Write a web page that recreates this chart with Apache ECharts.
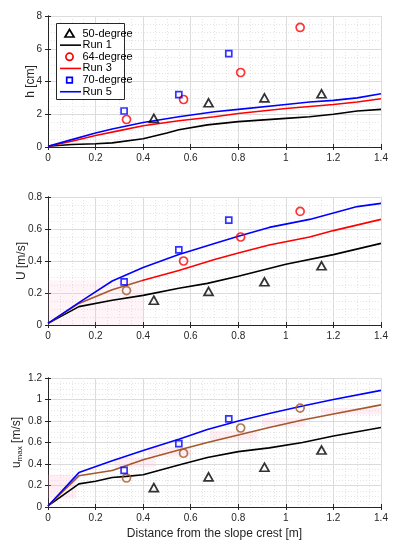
<!DOCTYPE html>
<html><head><meta charset="utf-8">
<script src="https://cdn.jsdelivr.net/npm/echarts@6/dist/echarts.min.js"></script>
<style>html,body{margin:0;padding:0;background:#fff}#c{width:398px;height:550px}</style>
</head><body><div id="c"></div>
<script>
// ---------- data ----------
const xTri = [0.445, 0.675, 0.91, 1.15];
const xCir = [0.33, 0.57, 0.81, 1.06];
const xSq  = [0.32, 0.55, 0.76];

// Panel 1: h [cm]
const hTri = [1.75, 2.7, 3.0, 3.25];
const hCir = [1.68, 2.9, 4.55, 7.3];
const hSq  = [2.2, 3.2, 5.7];
const hRun1X = [0, 0.1, 0.2, 0.27, 0.4, 0.5, 0.55, 0.67, 0.8, 1.0, 1.1, 1.2, 1.3, 1.4];
const hRun1Y = [0.05, 0.15, 0.2, 0.25, 0.5, 0.85, 1.05, 1.35, 1.55, 1.75, 1.85, 2.0, 2.2, 2.3];
const hRun3X = [0, 0.1, 0.2, 0.3, 0.4, 0.55, 0.7, 0.8, 1.0, 1.2, 1.3, 1.4];
const hRun3Y = [0.05, 0.35, 0.7, 1.0, 1.3, 1.6, 1.85, 2.05, 2.35, 2.6, 2.75, 2.95];
const hRun5X = [0, 0.1, 0.2, 0.27, 0.4, 0.55, 0.7, 0.8, 1.0, 1.1, 1.2, 1.3, 1.4];
const hRun5Y = [0.05, 0.45, 0.85, 1.1, 1.5, 1.85, 2.15, 2.3, 2.6, 2.75, 2.85, 3.0, 3.25];

// Panel 2: U [m/s]
const uTri = [0.155, 0.21, 0.27, 0.37];
const uCir = [0.215, 0.40, 0.55, 0.71];
const uSq  = [0.27, 0.47, 0.655];
const uRun1X = [0, 0.13, 0.27, 0.4, 0.55, 0.67, 0.8, 1.0, 1.2, 1.4];
const uRun1Y = [0.01, 0.115, 0.155, 0.185, 0.23, 0.26, 0.305, 0.38, 0.44, 0.51];
const uRun3X = [0, 0.13, 0.27, 0.4, 0.55, 0.7, 0.8, 0.93, 1.1, 1.2, 1.4];
const uRun3Y = [0.01, 0.135, 0.22, 0.28, 0.34, 0.41, 0.45, 0.5, 0.55, 0.59, 0.66];
const uRun5X = [0, 0.13, 0.27, 0.4, 0.55, 0.7, 0.8, 0.93, 1.1, 1.2, 1.3, 1.4];
const uRun5Y = [0.01, 0.14, 0.275, 0.36, 0.44, 0.51, 0.555, 0.61, 0.66, 0.70, 0.74, 0.76];

// Panel 3: u_max [m/s]
const mTri = [0.18, 0.28, 0.37, 0.53];
const mCir = [0.27, 0.50, 0.735, 0.92];
const mSq  = [0.34, 0.59, 0.82];
const mRun1X = [0, 0.13, 0.2, 0.27, 0.33, 0.4, 0.55, 0.67, 0.8, 0.93, 1.07, 1.2, 1.4];
const mRun1Y = [0.01, 0.215, 0.24, 0.275, 0.285, 0.30, 0.39, 0.46, 0.515, 0.55, 0.60, 0.66, 0.74];
const mRun3X = [0, 0.13, 0.27, 0.4, 0.55, 0.67, 0.8, 0.93, 1.07, 1.2, 1.4];
const mRun3Y = [0.01, 0.29, 0.34, 0.44, 0.53, 0.60, 0.67, 0.74, 0.81, 0.865, 0.95];
const mRun5X = [0, 0.13, 0.27, 0.4, 0.55, 0.67, 0.8, 0.93, 1.07, 1.2, 1.4];
const mRun5Y = [0.01, 0.32, 0.43, 0.525, 0.63, 0.72, 0.80, 0.87, 0.94, 1.0, 1.085];

const xTickLabels = ['0', '0.2', '0.4', '0.6', '0.8', '1', '1.2', '1.4'];
const legendNames = ['50-degree', 'Run 1', '64-degree', 'Run 3', '70-degree', 'Run 5'];

// ---------- styling ----------
const FONT = 'Liberation Sans, Arial, Helvetica, sans-serif';
const AX = '#262626';
const BLACK = '#000000', RED = '#ff0000', BLUE = '#0000ff', BROWN = '#a4582c';
const zip = (xs, ys) => xs.map((x, i) => [x, ys[i]]);

const grids = [
  {left: 48, right: 17, top: 16, height: 131, outerBoundsMode: 'none'},
  {left: 48, right: 17, top: 197, height: 128, outerBoundsMode: 'none'},
  {left: 48, right: 17, top: 378, height: 129, outerBoundsMode: 'none'}
];

const yCfg = [
  {min: 0, max: 8, interval: 2, name: 'h [cm]', gap: 11, fmt: v => String(v)},
  {min: 0, max: 0.8, interval: 0.2, name: 'U [m/s]', gap: 20, fmt: v => String(+v.toFixed(1))},
  {min: 0, max: 1.2, interval: 0.2, name: '{a|u}{s|max}{a| [m/s]}', gap: 24, fmt: v => String(+v.toFixed(1))}
];

const xAxis = [], yAxis = [];
grids.forEach((g, i) => {
  xAxis.push({
    type: 'value', gridIndex: i, min: 0, max: 1.4, interval: 0.2, position: 'bottom',
    axisLine: {show: true, lineStyle: {color: AX, width: 1}},
    axisTick: {show: true, inside: true, length: 3, lineStyle: {color: AX}},
    axisLabel: {color: AX, fontFamily: FONT, fontSize: 10, margin: 6,
      formatter: v => xTickLabels[Math.round(v / 0.2)]},
    splitLine: {show: true, lineStyle: {color: '#dcdcdc', width: 1}},
    minorTick: {show: false, splitNumber: 4},
    minorSplitLine: {show: true, lineStyle: {color: '#e4e4e4', type: [1, 2], width: 1}},
    name: i === 2 ? 'Distance from the slope crest [m]' : '',
    nameLocation: 'middle', nameGap: 21, nameMoveOverlap: false,
    nameTextStyle: {color: AX, fontFamily: FONT, fontSize: 12}
  });
  xAxis.push({
    type: 'value', gridIndex: i, min: 0, max: 1.4, interval: 0.2, position: 'top',
    axisLine: {show: true, lineStyle: {color: AX, width: 1}},
    axisTick: {show: true, inside: true, length: 3, lineStyle: {color: AX}},
    axisLabel: {show: false}, splitLine: {show: false}
  });
  const c = yCfg[i];
  yAxis.push({
    type: 'value', gridIndex: i, min: c.min, max: c.max, interval: c.interval, position: 'left',
    axisLine: {show: true, lineStyle: {color: AX, width: 1}},
    axisTick: {show: true, inside: true, length: 3, lineStyle: {color: AX}},
    axisLabel: {color: AX, fontFamily: FONT, fontSize: 10, margin: 6, formatter: c.fmt},
    splitLine: {show: true, lineStyle: {color: '#dcdcdc', width: 1}},
    minorTick: {show: false, splitNumber: 4},
    minorSplitLine: {show: true, lineStyle: {color: '#e4e4e4', type: [1, 2], width: 1}},
    name: c.name, nameLocation: 'middle', nameGap: c.gap, nameMoveOverlap: false,
    nameTextStyle: {color: AX, fontFamily: FONT, fontSize: 12,
      rich: {a: {fontFamily: FONT, fontSize: 12, color: AX},
             s: {fontFamily: FONT, fontSize: 8, color: AX, verticalAlign: 'bottom', padding: [6, 0, 0, 0]}}}
  });
  yAxis.push({
    type: 'value', gridIndex: i, min: c.min, max: c.max, interval: c.interval, position: 'right',
    axisLine: {show: true, lineStyle: {color: AX, width: 1}},
    axisTick: {show: true, inside: true, length: 3, lineStyle: {color: AX}},
    axisLabel: {show: false}, splitLine: {show: false}
  });
});

function scatter(name, xs, ys, gi, symbol, size, color, styleFn) {
  return {
    name, type: 'scatter', xAxisIndex: gi * 2, yAxisIndex: gi * 2,
    symbol, symbolSize: size, z: 5,
    itemStyle: {color: 'rgba(255,255,255,0)', borderColor: color, borderWidth: 1.7},
    data: zip(xs, ys).map((p, i) => styleFn ? styleFn(p, i) : p)
  };
}
function line(name, xs, ys, gi, color, extra) {
  return Object.assign({
    name, type: 'line', xAxisIndex: gi * 2, yAxisIndex: gi * 2,
    symbol: 'none', showSymbol: false, z: 4,
    lineStyle: {color, width: 1.6}, itemStyle: {color: typeof color === 'string' ? color : RED},
    data: zip(xs, ys)
  }, extra || {});
}

// brown-to-red split of panel 2 Run 3 line at x = 0.4 (fraction of the line's x extent)
const split = 0.4 / 1.4;
const brownRed = new echarts.graphic.LinearGradient(0, 0, 1, 0, [
  {offset: 0, color: BROWN}, {offset: split, color: BROWN},
  {offset: split, color: RED}, {offset: 1, color: RED}
]);

const PINK = 'rgba(255, 170, 200, 0.2)';
const PINK2 = 'rgba(255, 170, 200, 0.13)';
const band = (x0, y0, x1, y1) => [{xAxis: x0, yAxis: y0}, {xAxis: x1, yAxis: y1}];
const series = [
  // panel 1
  scatter('50-degree', xTri, hTri, 0, 'triangle', [9, 8], BLACK),
  line('Run 1', hRun1X, hRun1Y, 0, BLACK),
  scatter('64-degree', xCir, hCir, 0, 'circle', 8, RED),
  line('Run 3', hRun3X, hRun3Y, 0, RED),
  scatter('70-degree', xSq, hSq, 0, 'rect', 6, BLUE),
  line('Run 5', hRun5X, hRun5Y, 0, BLUE),
  // panel 2
  scatter('50-degree', xTri, uTri, 1, 'triangle', [9, 8], BLACK),
  line('Run 1', uRun1X, uRun1Y, 1, BLACK, {
    markArea: {silent: true, itemStyle: {color: PINK2}, data: [band(0, 0, 0.4, 0.28)]}
  }),
  scatter('64-degree', xCir, uCir, 1, 'circle', 8, RED,
    (p, i) => i === 0 ? {value: p, itemStyle: {borderColor: BROWN}} : p),
  line('Run 3', uRun3X, uRun3Y, 1, brownRed),
  scatter('70-degree', xSq, uSq, 1, 'rect', 6, BLUE),
  line('Run 5', uRun5X, uRun5Y, 1, BLUE),
  // panel 3
  scatter('50-degree', xTri, mTri, 2, 'triangle', [9, 8], BLACK),
  line('Run 1', mRun1X, mRun1Y, 2, BLACK),
  scatter('64-degree', xCir, mCir, 2, 'circle', 8, BROWN),
  line('Run 3', mRun3X, mRun3Y, 2, BROWN, {
    markArea: {silent: true, itemStyle: {color: PINK},
      data: [
        band(0, 0.08, 0.12, 0.3),
        band(0.28, 0.37, 0.45, 0.46),
        band(0.42, 0.47, 0.6, 0.56),
        band(0.68, 0.62, 0.88, 0.71),
        band(0.9, 0.75, 1.08, 0.83),
        band(1.15, 0.86, 1.4, 0.92)
      ]}
  }),
  scatter('70-degree', xSq, mSq, 2, 'rect', 6, BLUE),
  line('Run 5', mRun5X, mRun5Y, 2, BLUE)
];

// ---------- legend (drawn as graphics) ----------
const LG = {x: 56, y: 23, w: 68, h: 76, row0: 33.5, step: 11.65, symX: 69.5, lineX0: 60, lineX1: 81, textX: 82.5};
const legendKinds = [
  {kind: 'tri', color: BLACK}, {kind: 'line', color: BLACK},
  {kind: 'cir', color: RED}, {kind: 'line', color: RED},
  {kind: 'sq', color: BLUE}, {kind: 'line', color: BLUE}
];
const legendGraphics = [{
  type: 'rect', shape: {x: LG.x + 0.5, y: LG.y + 0.5, width: LG.w, height: LG.h},
  style: {fill: '#fff', stroke: AX, lineWidth: 1}, z: 100
}];
legendNames.forEach((nm, i) => {
  const cy = LG.row0 + i * LG.step;
  const k = legendKinds[i];
  if (k.kind === 'line') {
    legendGraphics.push({type: 'line', shape: {x1: LG.lineX0, y1: cy, x2: LG.lineX1, y2: cy},
      style: {stroke: k.color, lineWidth: 1.6}, z: 101});
  } else if (k.kind === 'tri') {
    legendGraphics.push({type: 'polygon', shape: {points: [[LG.symX, cy - 4], [LG.symX + 4.5, cy + 3.5], [LG.symX - 4.5, cy + 3.5]]},
      style: {fill: 'none', stroke: k.color, lineWidth: 1.7}, z: 101});
  } else if (k.kind === 'cir') {
    legendGraphics.push({type: 'circle', shape: {cx: LG.symX, cy: cy, r: 3.6},
      style: {fill: 'none', stroke: k.color, lineWidth: 1.7}, z: 101});
  } else {
    legendGraphics.push({type: 'rect', shape: {x: LG.symX - 2.8, y: cy - 2.8, width: 5.6, height: 5.6},
      style: {fill: 'none', stroke: k.color, lineWidth: 1.7}, z: 101});
  }
  legendGraphics.push({type: 'text', x: LG.textX, y: cy,
    style: {text: nm, fill: '#000', font: '11px ' + FONT, verticalAlign: 'middle'}, z: 101});
});

const chart = echarts.init(document.getElementById('c'), null, {renderer: 'canvas'});
chart.setOption({
  animation: false,
  backgroundColor: '#ffffff',
  grid: grids,
  xAxis, yAxis,
  graphic: legendGraphics,
  series
});
</script></body></html>
